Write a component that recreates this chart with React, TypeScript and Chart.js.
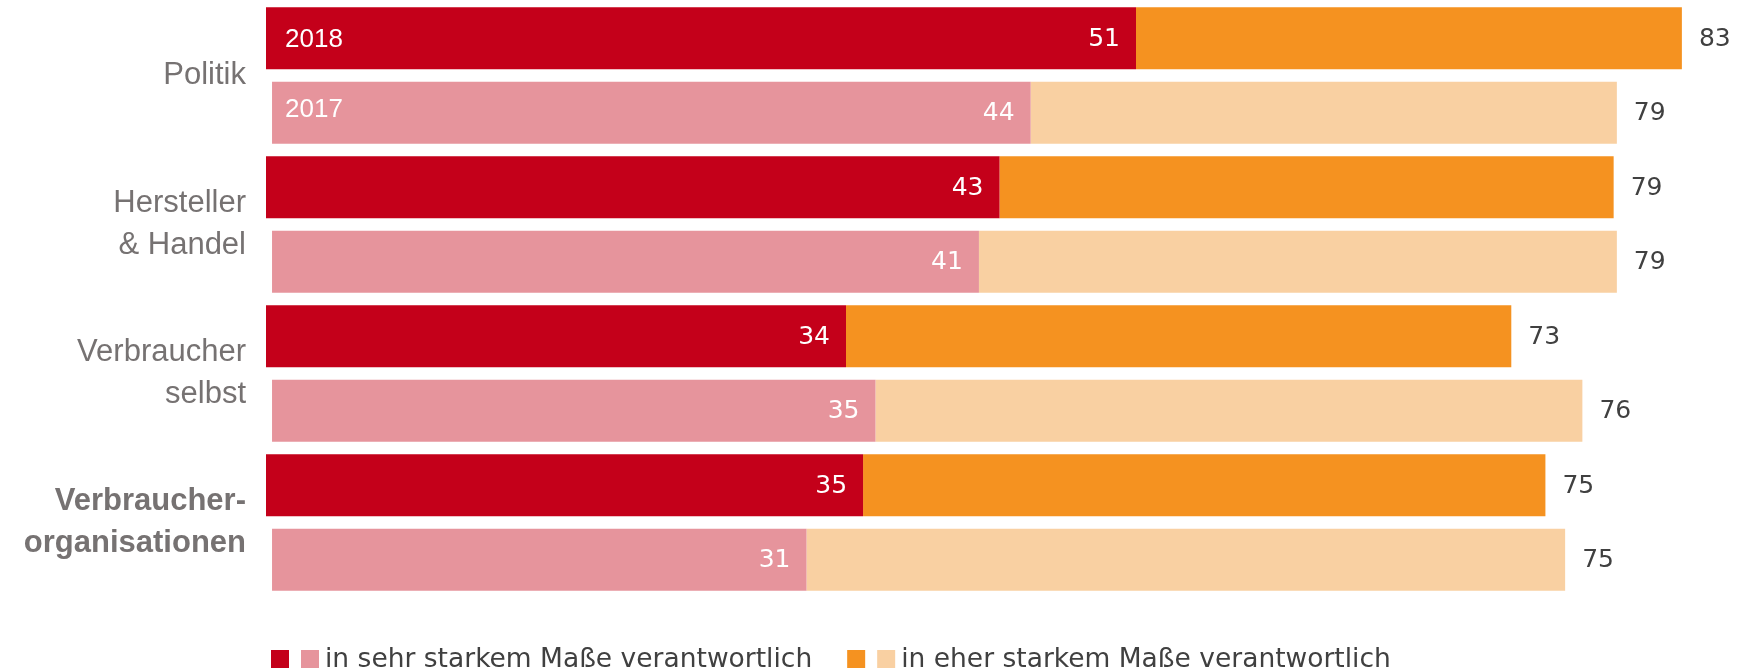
import { useEffect, useRef } from 'react';
import { Chart, registerables } from 'chart.js';

Chart.register(...registerables);

const categories: string[][] = [
  ['Politik'],
  ['Hersteller', '& Handel'],
  ['Verbraucher', 'selbst'],
  ['Verbraucher-', 'organisationen'],
];
const years = ['2018', '2017'];
// 2018 survey
const sehr2018 = [51, 43, 34, 35];
const eher2018 = [32, 36, 39, 40];
const total2018 = [83, 79, 73, 75];
// 2017 survey
const sehr2017 = [44, 41, 35, 31];
const eher2017 = [34, 37, 41, 44];
const total2017 = [79, 79, 76, 75];
const legendLabels = ['in sehr starkem Maße verantwortlich', 'in eher starkem Maße verantwortlich'];

const DARK_RED = '#C4001A';
const PINK = '#E6949C';
const ORANGE = '#F59220';
const LIGHT_ORANGE = '#F9D0A2';
const TEXT_DARK = '#404040';
const LABEL_GRAY = '#767272';

const INNER_FONT = '25px "DejaVu Sans", Verdana, sans-serif';
const OUTER_FONT = '25px "DejaVu Sans", Verdana, sans-serif';
const LEGEND_FONT = '26.5px "DejaVu Sans", Verdana, sans-serif';
const YEAR_FONT = '26px "Liberation Sans", Arial, sans-serif';

const labelsPlugin = {
  id: 'valueLabels',
  afterDatasetsDraw(chart: any) {
    const ctx = chart.ctx as CanvasRenderingContext2D;
    ctx.save();
    ctx.textBaseline = 'middle';
    chart.data.datasets.forEach((ds: any, di: number) => {
      const meta = chart.getDatasetMeta(di);
      meta.data.forEach((bar: any, i: number) => {
        const { x, y } = bar.getProps(['x', 'y'], true);
        if (ds.kind === 'sehr') {
          ctx.font = INNER_FONT;
          ctx.fillStyle = '#FFFFFF';
          ctx.textAlign = 'right';
          ctx.fillText(String(ds.data[i]), x - 16, y + 1);
          if (i === 0) {
            ctx.font = YEAR_FONT;
            ctx.textAlign = 'left';
            ctx.fillText(ds.year, chart.chartArea.left + 19, y + (ds.year === '2017' ? -3 : 2));
          }
        } else {
          ctx.font = OUTER_FONT;
          ctx.fillStyle = TEXT_DARK;
          ctx.textAlign = 'left';
          ctx.fillText(String(ds.totals[i]), x + 17, y + 1);
        }
      });
    });

    // Legend
    const legendY = chart.height - 13;
    const sq = 18;
    let lx = chart.chartArea.left + 5;
    const groups = [
      { colors: [DARK_RED, PINK], text: legendLabels[0] },
      { colors: [ORANGE, LIGHT_ORANGE], text: legendLabels[1] },
    ];
    ctx.font = LEGEND_FONT;
    ctx.textAlign = 'left';
    groups.forEach((g) => {
      g.colors.forEach((c, k) => {
        ctx.fillStyle = c;
        ctx.fillRect(lx + k * 30, legendY - 9, sq, 18);
      });
      const tx = lx + 30 + sq + 6;
      ctx.fillStyle = TEXT_DARK;
      ctx.fillText(g.text, tx, legendY + 1);
      lx = tx + ctx.measureText(g.text).width + 35;
    });
    ctx.restore();
  },
};

export default function App() {
  const canvasRef = useRef<HTMLCanvasElement | null>(null);

  useEffect(() => {
    document.body.style.margin = '0';
    const canvas = canvasRef.current;
    if (!canvas) return;

    const chart = new Chart(canvas, {
      type: 'bar',
      data: {
        labels: categories,
        datasets: [
          {
            label: legendLabels[0] + ' ' + years[0],
            data: sehr2018,
            backgroundColor: DARK_RED,
            stack: 's2018',
            xAxisID: 'x',
            borderWidth: 0,
            kind: 'sehr',
            year: years[0],
          } as any,
          {
            label: legendLabels[1] + ' ' + years[0],
            data: eher2018,
            backgroundColor: ORANGE,
            stack: 's2018',
            xAxisID: 'x',
            borderWidth: 0,
            kind: 'eher',
            totals: total2018,
          } as any,
          {
            label: legendLabels[0] + ' ' + years[1],
            data: sehr2017,
            backgroundColor: PINK,
            stack: 's2017',
            xAxisID: 'x2',
            borderWidth: 0,
            kind: 'sehr',
            year: years[1],
          } as any,
          {
            label: legendLabels[1] + ' ' + years[1],
            data: eher2017,
            backgroundColor: LIGHT_ORANGE,
            stack: 's2017',
            xAxisID: 'x2',
            borderWidth: 0,
            kind: 'eher',
            totals: total2017,
          } as any,
        ],
      },
      options: {
        indexAxis: 'y',
        animation: false,
        responsive: true,
        maintainAspectRatio: false,
        datasets: {
          bar: {
            categoryPercentage: 1,
            barPercentage: 0.83,
          },
        },
        layout: {
          padding: { top: 1, bottom: 75, left: 0, right: 23 },
        },
        plugins: {
          legend: { display: false },
          tooltip: { enabled: false },
        },
        scales: {
          x: {
            stacked: true,
            min: 0,
            max: 85,
            display: false,
          },
          x2: {
            type: 'linear',
            axis: 'x',
            stacked: true,
            min: -0.35,
            max: 83.75,
            display: false,
          },
          y: {
            stacked: true,
            grid: { display: false, drawTicks: false },
            border: { display: false },
            afterFit: (scale: any) => {
              scale.width = 266;
              scale.paddingTop = 0;
              scale.paddingBottom = 0;
            },
            ticks: {
              padding: 20,
              color: LABEL_GRAY,
              font: (ctx: any) => ({
                family: '"Liberation Sans", Arial, sans-serif',
                size: 31,
                lineHeight: 1.35,
                weight: ctx.index === 3 ? 'bold' : 'normal',
              }),
            },
          },
        },
      } as any,
      plugins: [labelsPlugin],
    });

    return () => chart.destroy();
  }, []);

  return (
    <div style={{ position: 'absolute', left: 0, top: 0, width: 1739, height: 672 }}>
      <canvas ref={canvasRef} />
    </div>
  );
}
